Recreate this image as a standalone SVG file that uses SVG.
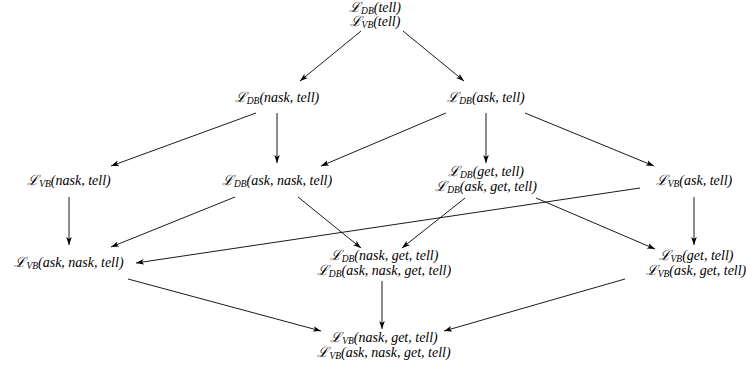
<svg xmlns="http://www.w3.org/2000/svg" width="746" height="370" viewBox="0 0 746 370">
<style>
text{font-family:"Liberation Serif","Times New Roman",serif;font-style:italic;font-size:14px;fill:#000;text-anchor:middle}
.s{font-size:9.5px}
.c line{stroke:#000;stroke-width:0.9;marker-end:url(#a)}
</style>
<defs>
<marker id="a" viewBox="0 0 10 10" refX="10" refY="5" markerWidth="8" markerHeight="8" markerUnits="userSpaceOnUse" orient="auto">
<path d="M0,1.5 L10,5 L0,8.5 L2.5,5 z" fill="#000"/>
</marker>
</defs>
<rect width="746" height="370" fill="#fff"/>
<g id="n_top">
<text x="375" y="12">ℒ<tspan class="s" dy="2">DB</tspan><tspan dy="-2">(tell)</tspan></text>
<text x="375" y="26">ℒ<tspan class="s" dy="2">VB</tspan><tspan dy="-2">(tell)</tspan></text>
</g>
<g id="n_db_nask_tell"><text x="277" y="102">ℒ<tspan class="s" dy="2">DB</tspan><tspan dy="-2">(nask, tell)</tspan></text></g>
<g id="n_db_ask_tell"><text x="486" y="102">ℒ<tspan class="s" dy="2">DB</tspan><tspan dy="-2">(ask, tell)</tspan></text></g>
<g id="n_vb_nask_tell"><text x="69" y="185">ℒ<tspan class="s" dy="2">VB</tspan><tspan dy="-2">(nask, tell)</tspan></text></g>
<g id="n_db_ask_nask_tell"><text x="277" y="185">ℒ<tspan class="s" dy="2">DB</tspan><tspan dy="-2">(ask, nask, tell)</tspan></text></g>
<g id="n_db_get_tell">
<text x="486" y="176">ℒ<tspan class="s" dy="2">DB</tspan><tspan dy="-2">(get, tell)</tspan></text>
<text x="486" y="191">ℒ<tspan class="s" dy="2">DB</tspan><tspan dy="-2">(ask, get, tell)</tspan></text>
</g>
<g id="n_vb_ask_tell"><text x="694" y="185">ℒ<tspan class="s" dy="2">VB</tspan><tspan dy="-2">(ask, tell)</tspan></text></g>
<g id="n_vb_ask_nask_tell"><text x="69" y="267">ℒ<tspan class="s" dy="2">VB</tspan><tspan dy="-2">(ask, nask, tell)</tspan></text></g>
<g id="n_db_nask_get_tell">
<text x="384" y="260">ℒ<tspan class="s" dy="2">DB</tspan><tspan dy="-2">(nask, get, tell)</tspan></text>
<text x="384" y="275">ℒ<tspan class="s" dy="2">DB</tspan><tspan dy="-2">(ask, nask, get, tell)</tspan></text>
</g>
<g id="n_vb_get_tell">
<text x="696" y="260">ℒ<tspan class="s" dy="2">VB</tspan><tspan dy="-2">(get, tell)</tspan></text>
<text x="696" y="275">ℒ<tspan class="s" dy="2">VB</tspan><tspan dy="-2">(ask, get, tell)</tspan></text>
</g>
<g id="n_bottom">
<text x="384" y="342">ℒ<tspan class="s" dy="2">VB</tspan><tspan dy="-2">(nask, get, tell)</tspan></text>
<text x="384" y="357">ℒ<tspan class="s" dy="2">VB</tspan><tspan dy="-2">(ask, nask, get, tell)</tspan></text>
</g>
<g id="connectors" class="c">
<line x1="361" y1="31" x2="300" y2="81"/>
<line x1="403" y1="31" x2="464" y2="81"/>
<line x1="256" y1="113" x2="111" y2="166"/>
<line x1="277" y1="113" x2="277" y2="163"/>
<line x1="446" y1="113" x2="321" y2="166"/>
<line x1="486" y1="113" x2="486" y2="163"/>
<line x1="525" y1="113" x2="654" y2="166"/>
<line x1="69" y1="197" x2="69" y2="245"/>
<line x1="235" y1="197" x2="111" y2="247"/>
<line x1="298" y1="197" x2="361" y2="248"/>
<line x1="465" y1="198" x2="402" y2="248"/>
<line x1="640" y1="188" x2="136" y2="263"/>
<line x1="536" y1="198" x2="655" y2="249"/>
<line x1="694" y1="197" x2="694" y2="245"/>
<line x1="128" y1="279" x2="321" y2="331"/>
<line x1="382" y1="281" x2="382" y2="329"/>
<line x1="625" y1="279" x2="444" y2="331"/>
</g>
</svg>
